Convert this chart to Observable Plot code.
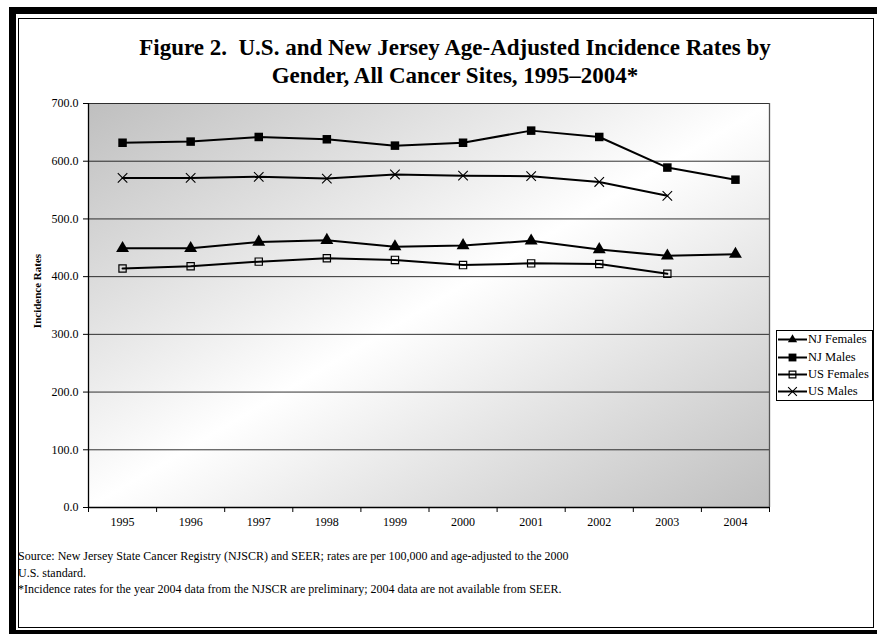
<!DOCTYPE html>
<html>
<head>
<meta charset="utf-8">
<script src="https://cdn.jsdelivr.net/npm/d3@7"></script>
<script src="https://cdn.jsdelivr.net/npm/@observablehq/plot@0.6"></script>
<style>
  html, body { margin: 0; padding: 0; background: #fff; }
  #wrap { position: relative; width: 877px; height: 634px; overflow: hidden; font-family: "Liberation Serif", "Times New Roman", serif; color: #000; }
  .blk { position: absolute; background: #000; }
  #box { position: absolute; left: 18px; top: 18px; width: 854px; height: 608px; border: 1px solid #000; }
  #title { position: absolute; left: 55px; width: 800px; top: 34px; text-align: center; font-weight: bold; font-size: 23px; line-height: 28px; }
  #ylabel { position: absolute; left: 37px; top: 291px; transform: translate(-50%, -50%) rotate(-90deg); font-weight: bold; font-size: 11px; white-space: nowrap; }
  #notes { position: absolute; left: 18px; top: 548px; font-size: 12px; line-height: 16.5px; white-space: nowrap; }
  #legend { position: absolute; left: 776px; top: 330px; width: 95px; height: 69px; border: 1px solid #000; background: #fff; font-size: 12.5px; }
  .lrow { position: absolute; left: 0; height: 17px; display: flex; align-items: center; }
  .lrow svg { display: block; }
  .lrow span { margin-left: 1px; white-space: nowrap; }
  #chart { position: absolute; left: 0; top: 0; }
</style>
</head>
<body>
<div id="wrap">
  <div class="blk" style="left:9px;top:7px;width:7px;height:627px"></div>
  <div class="blk" style="left:9px;top:7px;width:868px;height:7px"></div>
  <div class="blk" style="left:9px;top:630px;width:868px;height:4px"></div>
  <div id="box"></div>
  <div id="title">Figure 2.&nbsp; U.S. and New Jersey Age-Adjusted Incidence Rates by<br>Gender, All Cancer Sites, 1995–2004*</div>
  <div id="chart"></div>
  <div id="ylabel">Incidence Rates</div>
  <div id="notes">Source: New Jersey State Cancer Registry (NJSCR) and SEER; rates are per 100,000 and age-adjusted to the 2000<br>U.S. standard.<br>*Incidence rates for the year 2004 data from the NJSCR are preliminary; 2004 data are not available from SEER.</div>
  <div id="legend"></div>
</div>
<script>
// ---- Data ----
const years = [1995, 1996, 1997, 1998, 1999, 2000, 2001, 2002, 2003, 2004];
const njFemales = [449, 449, 460, 463, 452, 454, 462, 447, 436, 439];
const njMales   = [632, 634, 642, 638, 627, 632, 653, 642, 589, 568];
const usFemales = [414, 418, 426, 432, 429, 420, 423, 422, 405, null];
const usMales   = [571, 571, 573, 570, 577, 575, 574, 564, 540, null];
const seriesNames = ["NJ Females", "NJ Males", "US Females", "US Males"];
const yTicks = [0, 100, 200, 300, 400, 500, 600, 700];

const seriesValues = [njFemales, njMales, usFemales, usMales];
const rows = [];
seriesNames.forEach((name, s) => {
  seriesValues[s].forEach((v, i) => {
    if (v != null) rows.push({year: years[i], value: v, series: name});
  });
});
const bounds = [years[0] - 0.5, ...years.map(y => y + 0.5)];
const markStyle = {
  "NJ Females": {symbol: "triangle", fill: "#000", stroke: "none", r: 4.8},
  "NJ Males":   {symbol: "square", fill: "#000", stroke: "none", r: 4.8},
  "US Females": {symbol: "square", fill: "none", stroke: "#000", r: 4.1, strokeWidth: 1.2},
  "US Males":   {symbol: "times", fill: "none", stroke: "#000", r: 4.4, strokeWidth: 1.1}
};

const chart = Plot.plot({
  width: 877,
  height: 634,
  marginLeft: 88,
  marginRight: 108,
  marginTop: 103,
  marginBottom: 127,
  style: {background: "transparent", fontFamily: "'Liberation Serif', 'Times New Roman', serif", fontSize: "12px", color: "#000"},
  x: {type: "linear", domain: [bounds[0], bounds[bounds.length - 1]], axis: null},
  y: {domain: [0, 700], axis: null},
  marks: [
    Plot.frame({fill: "url(#plotbg)", stroke: null}),
    Plot.gridY(yTicks, {stroke: "#000", strokeOpacity: 0.8, strokeWidth: 1}),
    Plot.ruleX([bounds[0]], {stroke: "#000", strokeWidth: 1.3}),
    Plot.ruleX([bounds[bounds.length - 1]], {stroke: "#555", strokeWidth: 1.3}),
    Plot.ruleY([0], {stroke: "#000", strokeWidth: 1.3}),
    Plot.axisY(yTicks, {tickSize: 5, tickPadding: 5, tickFormat: d => d.toFixed(1), label: null, stroke: "#000", fill: "#000"}),
    Plot.axisX(bounds, {tickSize: 5, tickFormat: () => "", label: null, stroke: "#000"}),
    Plot.axisX(years, {tickSize: 0, tickPadding: 10, tickFormat: d => String(d), label: null, fill: "#000"}),
    Plot.line(rows, {x: "year", y: "value", z: "series", stroke: "#000", strokeWidth: 2}),
    ...seriesNames.map(name => Plot.dot(rows.filter(d => d.series === name), {
      x: "year", y: "value", ...markStyle[name]
    }))
  ]
});
const defs = d3.select(chart).insert("defs", ":first-child");
const grad = defs.append("linearGradient").attr("id", "plotbg")
  .attr("x1", 0).attr("y1", 0).attr("x2", 1).attr("y2", 1);
grad.append("stop").attr("offset", 0).attr("stop-color", "#bfbfbf");
grad.append("stop").attr("offset", 0.5).attr("stop-color", "#ffffff");
grad.append("stop").attr("offset", 1).attr("stop-color", "#bfbfbf");
document.getElementById("chart").appendChild(chart);

// Legend
const legend = d3.select("#legend");
const rowTops = [0, 17.5, 35, 52];
seriesNames.forEach((name, i) => {
  const st = markStyle[name];
  const row = legend.append("div").attr("class", "lrow").style("top", (rowTops[i]) + "px");
  const svg = row.append("svg").attr("width", 30).attr("height", 17);
  svg.append("line").attr("x1", 1).attr("x2", 30).attr("y1", 8.5).attr("y2", 8.5).attr("stroke", "#000").attr("stroke-width", 2);
  const symType = {triangle: d3.symbolTriangle2, square: d3.symbolSquare, times: d3.symbolTimes}[st.symbol];
  svg.append("path").attr("transform", "translate(15.5,8.5)")
    .attr("d", d3.symbol(symType, Math.PI * st.r * st.r * 0.85)())
    .attr("fill", st.fill).attr("stroke", st.stroke).attr("stroke-width", st.strokeWidth || 1);
  row.append("span").text(name);
});
</script>
</body>
</html>
